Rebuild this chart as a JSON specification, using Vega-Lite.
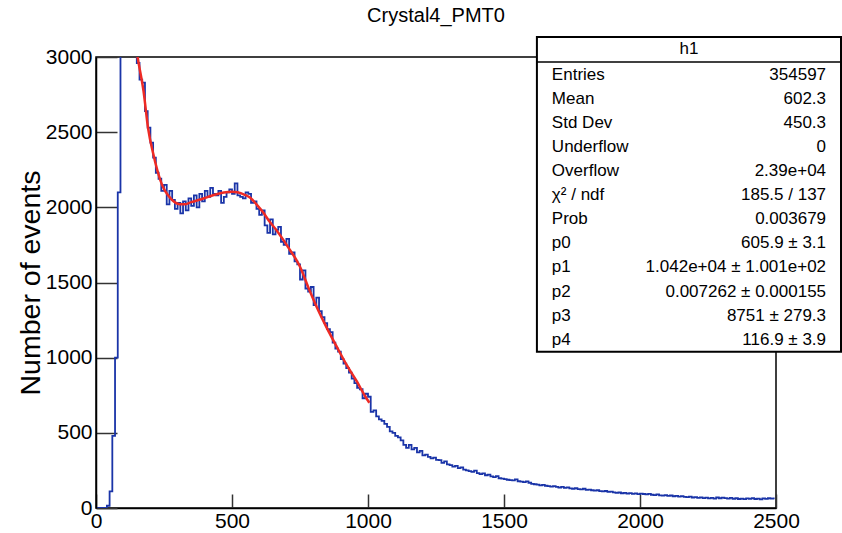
{
  "$schema": "https://vega.github.io/schema/vega-lite/v6.json",
  "width": 680,
  "height": 451,
  "autosize": {"type": "none"},
  "padding": {"left": 96, "top": 57, "right": 66, "bottom": 25},
  "background": "white",
  "title": {"text": "Crystal4_PMT0", "font": "Liberation Sans", "fontSize": 20, "fontWeight": "normal", "color": "black", "anchor": "middle", "offset": 10},
  "config": {
    "view": {"stroke": "black", "strokeWidth": 1.5},
    "font": "Liberation Sans"
  },
  "resolve": {"scale": {"y": "independent"}},
  "layer": [
    {
      "layer": [
        {
          "data": {"values": [
            {"x":5,"n":0},{"x":15,"n":0},{"x":25,"n":0},{"x":35,"n":0},{"x":45,"n":15},{"x":55,"n":110},{"x":65,"n":480},{"x":75,"n":1000},{"x":85,"n":2100},{"x":95,"n":3300},
            {"x":105,"n":3900},{"x":115,"n":3800},{"x":125,"n":3600},{"x":135,"n":3350},{"x":145,"n":3120},{"x":155,"n":2960},{"x":165,"n":2850},{"x":175,"n":2830},{"x":185,"n":2640},{"x":195,"n":2530},
            {"x":205,"n":2430},{"x":215,"n":2330},{"x":225,"n":2230},{"x":235,"n":2190},{"x":245,"n":2110},{"x":255,"n":2150},{"x":265,"n":2020},{"x":275,"n":2110},{"x":285,"n":2050},{"x":295,"n":1990},
            {"x":305,"n":2030},{"x":315,"n":1960},{"x":325,"n":2040},{"x":335,"n":1980},{"x":345,"n":2060},{"x":355,"n":2010},{"x":365,"n":2080},{"x":375,"n":2000},{"x":385,"n":2090},{"x":395,"n":2040},
            {"x":405,"n":2110},{"x":415,"n":2070},{"x":425,"n":2130},{"x":435,"n":2090},{"x":445,"n":2080},{"x":455,"n":2110},{"x":465,"n":2030},{"x":475,"n":2070},{"x":485,"n":2100},{"x":495,"n":2120},
            {"x":505,"n":2090},{"x":515,"n":2160},{"x":525,"n":2080},{"x":535,"n":2070},{"x":545,"n":2060},{"x":555,"n":2100},{"x":565,"n":2090},{"x":575,"n":2030},{"x":585,"n":2040},{"x":595,"n":1990},
            {"x":605,"n":1950},{"x":615,"n":1980},{"x":625,"n":1880},{"x":635,"n":1830},{"x":645,"n":1920},{"x":655,"n":1820},{"x":665,"n":1850},{"x":675,"n":1870},{"x":685,"n":1770},{"x":695,"n":1750},
            {"x":705,"n":1790},{"x":715,"n":1690},{"x":725,"n":1700},{"x":735,"n":1640},{"x":745,"n":1620},{"x":755,"n":1520},{"x":765,"n":1580},{"x":775,"n":1460},{"x":785,"n":1440},{"x":795,"n":1470},
            {"x":805,"n":1350},{"x":815,"n":1400},{"x":825,"n":1310},{"x":835,"n":1270},{"x":845,"n":1230},{"x":855,"n":1190},{"x":865,"n":1170},{"x":875,"n":1100},{"x":885,"n":1060},{"x":895,"n":1040},
            {"x":905,"n":990},{"x":915,"n":960},{"x":925,"n":930},{"x":935,"n":900},{"x":945,"n":860},{"x":955,"n":830},{"x":965,"n":800},{"x":975,"n":790},{"x":985,"n":730},{"x":995,"n":760},
            {"x":1005,"n":740},{"x":1015,"n":640},{"x":1025,"n":650},{"x":1035,"n":610},{"x":1045,"n":590},{"x":1055,"n":580},{"x":1065,"n":560},{"x":1075,"n":540},{"x":1085,"n":510},{"x":1095,"n":500},
            {"x":1105,"n":480},{"x":1115,"n":470},{"x":1125,"n":450},{"x":1135,"n":420},{"x":1145,"n":400},{"x":1155,"n":420},{"x":1165,"n":390},{"x":1175,"n":400},{"x":1185,"n":370},{"x":1195,"n":380},
            {"x":1205,"n":350},{"x":1215,"n":355},{"x":1225,"n":340},{"x":1235,"n":330},{"x":1245,"n":335},{"x":1255,"n":320},{"x":1265,"n":318},{"x":1275,"n":300},{"x":1285,"n":310},{"x":1295,"n":290},
            {"x":1305,"n":285},{"x":1315,"n":275},{"x":1325,"n":280},{"x":1335,"n":265},{"x":1345,"n":270},{"x":1355,"n":255},{"x":1365,"n":250},{"x":1375,"n":245},{"x":1385,"n":240},{"x":1395,"n":248},
            {"x":1405,"n":232},{"x":1415,"n":225},{"x":1425,"n":230},{"x":1435,"n":218},{"x":1445,"n":222},{"x":1455,"n":210},{"x":1465,"n":205},{"x":1475,"n":212},{"x":1485,"n":198},{"x":1495,"n":195},
            {"x":1505,"n":192},{"x":1515,"n":188},{"x":1525,"n":186},{"x":1535,"n":184},{"x":1545,"n":190},{"x":1555,"n":178},{"x":1565,"n":175},{"x":1575,"n":172},{"x":1585,"n":177},{"x":1595,"n":168},
            {"x":1605,"n":160},{"x":1615,"n":158},{"x":1625,"n":155},{"x":1635,"n":150},{"x":1645,"n":154},{"x":1655,"n":148},{"x":1665,"n":145},{"x":1675,"n":142},{"x":1685,"n":146},{"x":1695,"n":140},
            {"x":1705,"n":136},{"x":1715,"n":140},{"x":1725,"n":134},{"x":1735,"n":137},{"x":1745,"n":130},{"x":1755,"n":128},{"x":1765,"n":132},{"x":1775,"n":126},{"x":1785,"n":124},{"x":1795,"n":128},
            {"x":1805,"n":120},{"x":1815,"n":122},{"x":1825,"n":118},{"x":1835,"n":115},{"x":1845,"n":118},{"x":1855,"n":112},{"x":1865,"n":110},{"x":1875,"n":113},{"x":1885,"n":107},{"x":1895,"n":109},
            {"x":1905,"n":104},{"x":1915,"n":100},{"x":1925,"n":103},{"x":1935,"n":98},{"x":1945,"n":100},{"x":1955,"n":96},{"x":1965,"n":99},{"x":1975,"n":94},{"x":1985,"n":97},{"x":1995,"n":92},
            {"x":2005,"n":96},{"x":2015,"n":93},{"x":2025,"n":90},{"x":2035,"n":94},{"x":2045,"n":88},{"x":2055,"n":86},{"x":2065,"n":90},{"x":2075,"n":84},{"x":2085,"n":82},{"x":2095,"n":86},
            {"x":2105,"n":80},{"x":2115,"n":83},{"x":2125,"n":78},{"x":2135,"n":81},{"x":2145,"n":76},{"x":2155,"n":79},{"x":2165,"n":74},{"x":2175,"n":72},{"x":2185,"n":76},{"x":2195,"n":70},
            {"x":2205,"n":73},{"x":2215,"n":68},{"x":2225,"n":71},{"x":2235,"n":66},{"x":2245,"n":69},{"x":2255,"n":64},{"x":2265,"n":67},{"x":2275,"n":63},{"x":2285,"n":70},{"x":2295,"n":65},
            {"x":2305,"n":69},{"x":2315,"n":66},{"x":2325,"n":62},{"x":2335,"n":68},{"x":2345,"n":61},{"x":2355,"n":65},{"x":2365,"n":60},{"x":2375,"n":63},{"x":2385,"n":59},{"x":2395,"n":64},
            {"x":2405,"n":61},{"x":2415,"n":66},{"x":2425,"n":60},{"x":2435,"n":63},{"x":2445,"n":58},{"x":2455,"n":64},{"x":2465,"n":61},{"x":2475,"n":65},{"x":2485,"n":62},{"x":2495,"n":64}
          ]},
          "mark": {"type": "line", "interpolate": "step", "clip": true, "color": "#1a34a8", "strokeWidth": 1.8},
          "encoding": {
            "x": {
              "field": "x", "type": "quantitative",
              "scale": {"domain": [0, 2500], "nice": false, "zero": false},
              "axis": {"title": null, "values": [0, 500, 1000, 1500, 2000, 2500], "format": "d", "labelFontSize": 21, "labelFont": "Liberation Sans", "labelColor": "black", "labelFlush": false, "labelOverlap": false, "tickSize": -14, "tickWidth": 1.5, "tickColor": "#333333", "labelPadding": 16, "domainColor": "black", "domainWidth": 1.5, "grid": false}
            },
            "y": {
              "field": "n", "type": "quantitative",
              "scale": {"domain": [0, 3000], "nice": false},
              "axis": {"title": "Number of events", "titleFont": "Liberation Sans", "titleFontSize": 28.5, "titleFontWeight": "normal", "titleColor": "black", "titlePadding": 0, "values": [0, 500, 1000, 1500, 2000, 2500, 3000], "format": "d", "labelFontSize": 21, "labelFont": "Liberation Sans", "labelColor": "black", "labelOverlap": false, "tickSize": -21, "tickWidth": 1.5, "tickColor": "#333333", "labelPadding": 25, "domainColor": "black", "domainWidth": 1.5, "grid": false}
            }
          }
        },
        {
          "data": {"values": [
            {"x":130,"f":3300},{"x":153,"f":3000},{"x":175,"f":2770},{"x":192,"f":2520},{"x":210,"f":2360},{"x":225,"f":2250},{"x":245,"f":2140},{"x":265,"f":2080},{"x":285,"f":2040},{"x":308,"f":2020},
            {"x":325,"f":2020},{"x":350,"f":2035},{"x":380,"f":2050},{"x":410,"f":2068},{"x":440,"f":2085},{"x":470,"f":2098},{"x":500,"f":2104},{"x":520,"f":2100},{"x":545,"f":2085},{"x":566,"f":2065},
            {"x":590,"f":2020},{"x":615,"f":1965},{"x":640,"f":1900},{"x":665,"f":1845},{"x":690,"f":1780},{"x":713,"f":1716},{"x":735,"f":1655},{"x":750,"f":1605},{"x":780,"f":1470},{"x":811,"f":1339},
            {"x":848,"f":1200},{"x":885,"f":1073},{"x":922,"f":950},{"x":958,"f":845},{"x":989,"f":745},{"x":1005,"f":700}
          ]},
          "mark": {"type": "line", "interpolate": "monotone", "clip": true, "color": "#ee2a24", "strokeWidth": 2.5},
          "encoding": {
            "x": {"field": "x", "type": "quantitative"},
            "y": {"field": "f", "type": "quantitative"}
          }
        }
      ]
    },
    {
      "layer": [
        {
          "data": {"values": [{}]},
          "mark": {"type": "rect", "fill": "white", "stroke": "black", "strokeWidth": 2},
          "encoding": {
            "x": {"datum": 1621, "type": "quantitative"},
            "x2": {"datum": 2739},
            "y": {"datum": -0.58, "type": "quantitative", "scale": {"domain": [0.25, 19], "reverse": true, "nice": false, "zero": false}, "axis": null},
            "y2": {"datum": 12.5}
          }
        },
        {
          "data": {"values": [{}]},
          "mark": {"type": "rule", "stroke": "black", "strokeWidth": 1.5},
          "encoding": {
            "x": {"datum": 1621, "type": "quantitative"},
            "x2": {"datum": 2739},
            "y": {"datum": 0.46, "type": "quantitative", "scale": {"domain": [0.25, 19], "reverse": true, "nice": false, "zero": false}, "axis": null}
          }
        },
        {
          "data": {"values": [{"name": "h1", "row": -0.08}]},
          "mark": {"type": "text", "font": "Liberation Sans", "fontSize": 17, "color": "black", "align": "center", "baseline": "middle"},
          "encoding": {
            "x": {"datum": 2180, "type": "quantitative"},
            "y": {"field": "row", "type": "quantitative", "scale": {"domain": [0.25, 19], "reverse": true, "nice": false, "zero": false}, "axis": null},
            "text": {"field": "name"}
          }
        },
        {
          "data": {"name": "stats", "values": [
            {"row": 1, "label": "Entries", "value": "354597"},
            {"row": 2, "label": "Mean", "value": "602.3"},
            {"row": 3, "label": "Std Dev", "value": "450.3"},
            {"row": 4, "label": "Underflow", "value": "0"},
            {"row": 5, "label": "Overflow", "value": "2.39e+04"},
            {"row": 6, "label": "χ² / ndf", "value": "185.5 / 137"},
            {"row": 7, "label": "Prob", "value": "0.003679"},
            {"row": 8, "label": "p0", "value": "605.9 ± 3.1"},
            {"row": 9, "label": "p1", "value": "1.042e+04 ± 1.001e+02"},
            {"row": 10, "label": "p2", "value": "0.007262 ± 0.000155"},
            {"row": 11, "label": "p3", "value": "8751 ± 279.3"},
            {"row": 12, "label": "p4", "value": "116.9 ± 3.9"}
          ]},
          "layer": [
            {
              "mark": {"type": "text", "font": "Liberation Sans", "fontSize": 17, "color": "black", "align": "left", "baseline": "middle"},
              "encoding": {
                "x": {"datum": 1676, "type": "quantitative"},
                "y": {"field": "row", "type": "quantitative", "scale": {"domain": [0.25, 19], "reverse": true, "nice": false, "zero": false}, "axis": null},
                "text": {"field": "label"}
              }
            },
            {
              "mark": {"type": "text", "font": "Liberation Sans", "fontSize": 17, "color": "black", "align": "right", "baseline": "middle"},
              "encoding": {
                "x": {"datum": 2684, "type": "quantitative"},
                "y": {"field": "row", "type": "quantitative", "scale": {"domain": [0.25, 19], "reverse": true, "nice": false, "zero": false}, "axis": null},
                "text": {"field": "value"}
              }
            }
          ]
        }
      ]
    }
  ]
}
